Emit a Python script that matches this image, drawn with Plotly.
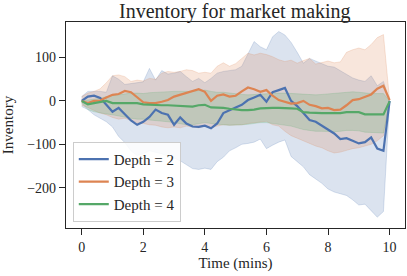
import plotly.graph_objects as go

time = [round(i * 0.2, 1) for i in range(51)]

d2_mean = [0, 10, 12, 7, -9, -25, -16, -30, -45, -55, -48, -37, -20, -28, -32, -55, -38, -52, -59, -60,
           -57, -63, -52, -28, -21, -15, -9, 2, 8, 14, -2, 20, 25, 30, 0, -12, -28, -44, -48, -57,
           -68, -75, -88, -86, -92, -98, -95, -84, -110, -115, 0]
d2_upper = [10, 22, 22, 22, 20, 58, 50, 38, 40, 42, 44, 75, 48, 70, 62, 64, 68, 56, 45, 52,
            42, 52, 64, 68, 70, 72, 80, 110, 137, 125, 118, 148, 160, 152, 135, 112, 87, 98, 92, 85,
            80, 78, 70, 62, 53, 48, 45, 58, 35, 45, 0]
d2_lower = [-13, -20, -32, -40, -48, -60, -82, -96, -115, -126, -122, -115, -118, -122, -128, -132, -138, -148, -156, -158,
            -155, -158, -140, -130, -115, -108, -100, -98, -95, -88, -110, -102, -95, -90, -128, -140, -152, -170, -180, -190,
            -203, -210, -214, -218, -228, -240, -238, -252, -268, -255, 0]

d3_mean = [0, -5, 0, 1, 8, 14, 16, 23, 20, 8, -3, -5, -5, -2, 2, 10, 14, 18, 22, 27,
           21, 0, 12, 15, 10, 12, 22, 31, 27, 21, 25, 12, 2, -2, -6, -5, 0, -9, -12, -17,
           -16, -21, -20, -10, 2, 4, 10, 15, 28, 35, 2]
d3_upper = [10, 18, 22, 28, 42, 58, 60, 56, 45, 48, 46, 52, 50, 64, 68, 66, 68, 72, 70, 64,
            66, 64, 80, 88, 80, 86, 98, 110, 106, 110, 107, 102, 95, 91, 94, 87, 93, 98, 85, 88,
            92, 88, 90, 112, 118, 122, 118, 130, 146, 153, 2]
d3_lower = [-10, -15, -22, -28, -32, -38, -42, -40, -45, -50, -52, -55, -56, -60, -62, -60, -62, -58, -60, -62,
            -58, -62, -58, -55, -56, -55, -55, -52, -50, -48, -47, -55, -58, -70, -80, -86, -92, -98, -104, -108,
            -115, -120, -118, -114, -110, -108, -104, -100, -92, -80, -2]

d4_mean = [0, -8, -5, -2, 0, -5, -5, -4, -4, -5, -8, -9, -10, -10, -10, -11, -12, -13, -13, -10,
           -9, -15, -15, -16, -18, -20, -21, -21, -20, -17, -16, -16, -16, -16, -17, -18, -26, -27, -28, -28,
           -28, -28, -28, -26, -26, -26, -31, -31, -31, -31, -1]
d4_upper = [2, 2, 4, 6, 10, 12, 14, 16, 18, 18, 17, 19, 20, 21, 22, 22, 22, 22, 22, 24,
            25, 22, 20, 20, 18, 16, 15, 14, 15, 16, 17, 18, 18, 18, 17, 16, 15, 14, 14, 15,
            16, 18, 19, 20, 21, 20, 18, 17, 17, 17, 0]
d4_lower = [-5, -20, -25, -28, -30, -32, -35, -38, -40, -42, -42, -44, -45, -46, -48, -50, -52, -55, -55, -52,
            -50, -52, -54, -55, -56, -56, -55, -54, -52, -50, -50, -52, -54, -56, -58, -62, -66, -68, -70, -70,
            -71, -71, -70, -68, -68, -69, -72, -73, -74, -74, -2]

labels = ["Depth = 2", "Depth = 3", "Depth = 4"]
colors = [(76, 114, 176), (221, 132, 82), (85, 168, 104)]
means = [d2_mean, d3_mean, d4_mean]
uppers = [d2_upper, d3_upper, d4_upper]
lowers = [d2_lower, d3_lower, d4_lower]

fig = go.Figure()
for lab, c, lo, up in zip(labels, colors, lowers, uppers):
    r, g, b = c
    fig.add_trace(go.Scatter(x=time, y=lo, mode="lines",
                             line=dict(color=f"rgba({r},{g},{b},0.25)", width=0.8),
                             showlegend=False, hoverinfo="skip"))
    fig.add_trace(go.Scatter(x=time, y=up, mode="lines", fill="tonexty",
                             fillcolor=f"rgba({r},{g},{b},0.2)",
                             line=dict(color=f"rgba({r},{g},{b},0.25)", width=0.8),
                             showlegend=False, hoverinfo="skip"))
for lab, c, m in zip(labels, colors, means):
    r, g, b = c
    fig.add_trace(go.Scatter(x=time, y=m, mode="lines", name=lab,
                             line=dict(color=f"rgb({r},{g},{b})", width=2.2)))

FF = "Liberation Serif"
fig.update_layout(
    width=407, height=276,
    margin=dict(l=66, r=2, t=22, b=48),
    paper_bgcolor="white", plot_bgcolor="white",
    font=dict(family=FF, size=15, color="#262626"),
    title=dict(text="Inventory for market making", x=0.577, xanchor="center",
               y=0.962, yanchor="middle", font=dict(family=FF, size=20, color="#262626")),
    legend=dict(x=0.02, y=0.03, xanchor="left", yanchor="bottom", traceorder="normal",
                bgcolor="rgba(255,255,255,0.85)", bordercolor="#cccccc", borderwidth=1,
                font=dict(family=FF, size=15, color="#262626"), tracegroupgap=0, itemwidth=30),
    showlegend=True,
)
fig.update_xaxes(range=[-0.51, 10.5], tickvals=[0, 2, 4, 6, 8, 10],
                 showline=True, linecolor="#262626", linewidth=1.2, mirror=True,
                 ticks="outside", ticklen=6, tickwidth=1.2, tickcolor="#262626",
                 showgrid=False, zeroline=False,
                 title=dict(text="Time (mins)", standoff=3, font=dict(family=FF, size=15)),
                 tickfont=dict(family=FF, size=14))
fig.update_yaxes(range=[-293, 182], tickvals=[-200, -100, 0, 100],
                 showline=True, linecolor="#262626", linewidth=1.2, mirror=True,
                 ticks="outside", ticklen=6, tickwidth=1.2, tickcolor="#262626",
                 showgrid=False, zeroline=False,
                 title=dict(text="Inventory", standoff=10, font=dict(family=FF, size=15)),
                 tickfont=dict(family=FF, size=14))

fig.write_html("out.html", config={"displayModeBar": False},
               post_script="document.body.style.margin='0';")
